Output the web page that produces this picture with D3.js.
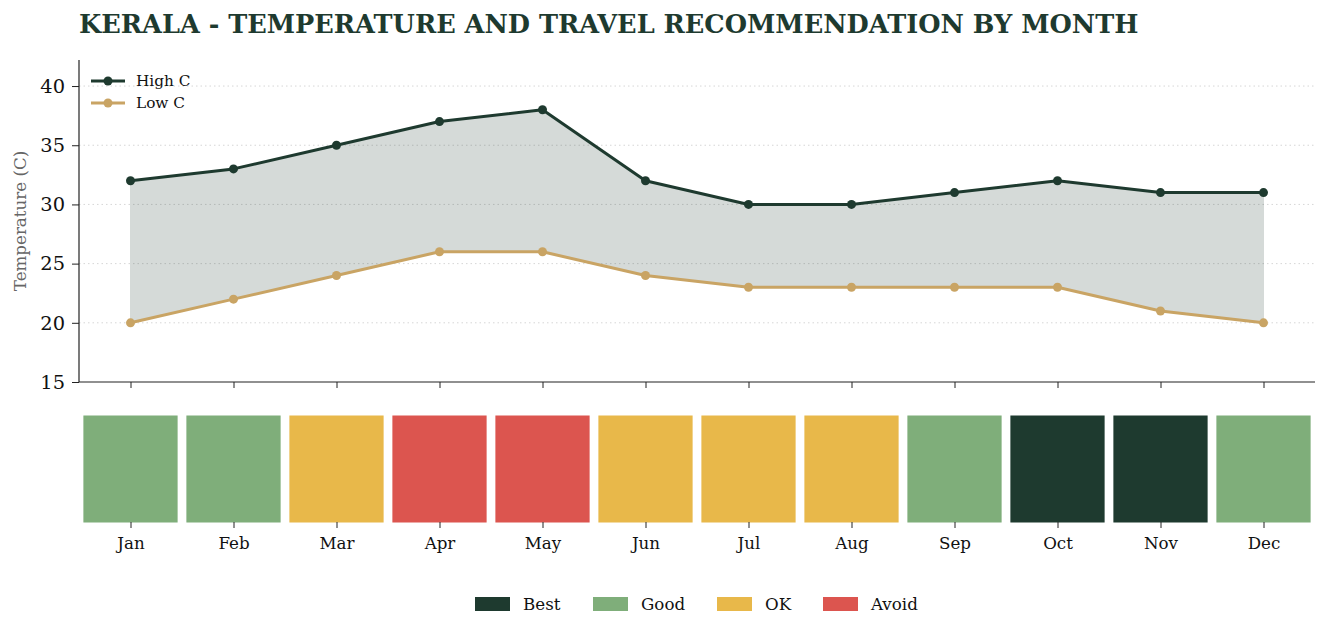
<!DOCTYPE html>
<html>
<head>
<meta charset="utf-8">
<script src="https://cdn.jsdelivr.net/npm/d3@7"></script>
<style>
  body { margin: 0; background: #fff; }
  text { font-family: "DejaVu Serif", serif; }
</style>
</head>
<body>
<div id="chart"></div>
<script>
const months = ["Jan","Feb","Mar","Apr","May","Jun","Jul","Aug","Sep","Oct","Nov","Dec"];
const highC = [32, 33, 35, 37, 38, 32, 30, 30, 31, 32, 31, 31];
const lowC = [20, 22, 24, 26, 26, 24, 23, 23, 23, 23, 21, 20];
const recommendation = ["Good","Good","OK","Avoid","Avoid","OK","OK","OK","Good","Best","Best","Good"];
const yTicks = [15, 20, 25, 30, 35, 40];
const categories = ["Best", "Good", "OK", "Avoid"];

const palette = { Best: "#1e3a2f", Good: "#7fae7a", OK: "#e8b84a", Avoid: "#dc554f" };
const dark = "#1e3a2f", tan = "#c9a464";

const W = 1332, H = 638;
const svg = d3.select("#chart").append("svg")
  .attr("width", W).attr("height", H);

// title
svg.append("text")
  .attr("x", 79).attr("y", 33)
  .attr("fill", dark)
  .style("font-size", "25.6px").style("font-weight", "bold")
  .text("KERALA - TEMPERATURE AND TRAVEL RECOMMENDATION BY MONTH");

// scales
const x = d3.scaleLinear().domain([-0.5, 11.5]).range([79, 1315]);
const y = d3.scaleLinear().domain([15, 42.2]).range([382, 60]);

// grid
svg.append("g").selectAll("line")
  .data(yTicks.filter(t => t > 15))
  .join("line")
    .attr("x1", 79).attr("x2", 1315)
    .attr("y1", d => y(d)).attr("y2", d => y(d))
    .attr("stroke", "#d6d6d6").attr("stroke-width", 1)
    .attr("stroke-dasharray", "1.5,3");

// fill between
const area = d3.area()
  .x((d, i) => x(i))
  .y0((d, i) => y(lowC[i]))
  .y1(d => y(d));
svg.append("path")
  .datum(highC)
  .attr("d", area)
  .attr("fill", "#1e3a2f").attr("fill-opacity", 0.19)
  .attr("stroke", "#1e3a2f").attr("stroke-opacity", 0.1);

// lines
const line = d3.line().x((d, i) => x(i)).y(d => y(d));
[[highC, dark], [lowC, tan]].forEach(([vals, col]) => {
  svg.append("path").datum(vals)
    .attr("d", line).attr("fill", "none")
    .attr("stroke", col).attr("stroke-width", 3)
    .attr("stroke-linejoin", "round");
  svg.append("g").selectAll("circle")
    .data(vals).join("circle")
      .attr("cx", (d, i) => x(i)).attr("cy", d => y(d))
      .attr("r", 4.5).attr("fill", col);
});

// axes
const yAxis = svg.append("g")
  .attr("transform", "translate(79,0)")
  .call(d3.axisLeft(y).tickValues(yTicks).tickSize(7).tickPadding(7));
yAxis.select(".domain").attr("d", `M0,60V382`).attr("stroke", "#222").attr("stroke-width", 1.2);
yAxis.selectAll("line").attr("stroke", "#222");
yAxis.selectAll("text").style("font-size", "19.4px").attr("fill", "#111").style("font-family", "DejaVu Serif");

const xAxis = svg.append("g")
  .attr("transform", "translate(0,382)")
  .call(d3.axisBottom(x).tickValues(d3.range(12)).tickSize(6).tickFormat(""));
xAxis.select(".domain").attr("d", "M79,0H1315").attr("stroke", "#222").attr("stroke-width", 1.2);
xAxis.selectAll("line").attr("stroke", "#222");

svg.append("text")
  .attr("transform", "rotate(-90)")
  .attr("x", -221).attr("y", 26)
  .attr("text-anchor", "middle")
  .attr("fill", "#666")
  .style("font-size", "16.7px")
  .text("Temperature (C)");

// top legend
const tl = svg.append("g");
[["High C", dark, 81], ["Low C", tan, 103]].forEach(([lab, col, ly]) => {
  tl.append("line").attr("x1", 91).attr("x2", 125).attr("y1", ly).attr("y2", ly)
    .attr("stroke", col).attr("stroke-width", 3);
  tl.append("circle").attr("cx", 108).attr("cy", ly).attr("r", 4.5).attr("fill", col);
  tl.append("text").attr("x", 136).attr("y", ly + 5)
    .style("font-size", "15.3px").attr("fill", "#111").text(lab);
});

// recommendation strip
const bw = (x(1) - x(0)) * 0.915;
svg.append("g").selectAll("rect")
  .data(recommendation).join("rect")
    .attr("x", (d, i) => x(i) - bw / 2).attr("y", 415.5)
    .attr("width", bw).attr("height", 107)
    .attr("fill", d => palette[d]);

const mAxis = svg.append("g")
  .attr("transform", "translate(0,522)")
  .call(d3.axisBottom(x).tickValues(d3.range(12)).tickSize(6).tickPadding(9)
    .tickFormat(i => months[i]));
mAxis.select(".domain").remove();
mAxis.selectAll("line").attr("stroke", "#222");
mAxis.selectAll("text").style("font-size", "16.7px").attr("fill", "#111").style("font-family", "DejaVu Serif");

// bottom legend
const lx = [475, 593, 717, 823];
const bl = svg.append("g");
categories.forEach((c, i) => {
  bl.append("rect").attr("x", lx[i]).attr("y", 597).attr("width", 35).attr("height", 14)
    .attr("fill", palette[c]);
  bl.append("text").attr("x", lx[i] + 48).attr("y", 610)
    .style("font-size", "16.7px").attr("fill", "#111").text(c);
});
</script>
</body>
</html>
